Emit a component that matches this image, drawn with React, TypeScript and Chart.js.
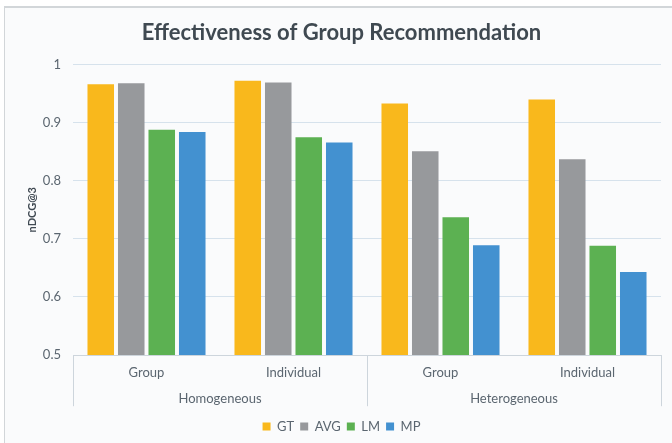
import React, { useEffect, useRef } from "react";
import { Chart, registerables } from "chart.js";

Chart.register(...registerables);

const subCategories = ["Group", "Individual", "Group", "Individual"];
const groupCategories = ["Homogeneous", "Heterogeneous"];
const seriesNames = ["GT", "AVG", "LM", "MP"];
const gtValues = [0.966, 0.972, 0.933, 0.94];
const avgValues = [0.968, 0.969, 0.851, 0.837];
const lmValues = [0.888, 0.875, 0.737, 0.688];
const mpValues = [0.884, 0.866, 0.689, 0.643];
const seriesColors = ["#F9B81C", "#97999C", "#5CB152", "#4391D0"];
const yTicks = [0.5, 0.6, 0.7, 0.8, 0.9, 1];

const FONT = "Lato, 'Open Sans', sans-serif";

export default function App() {
  const ref = useRef<HTMLCanvasElement | null>(null);

  useEffect(() => {
    if (!ref.current) return;
    const boxLines = {
      id: "boxLines",
      afterDraw(chart: any) {
        const x = chart.scales.x;
        const x2 = chart.scales.x2;
        const ctx = chart.ctx;
        const top = chart.chartArea.bottom;
        const bottom = x2.top + 25.6;
        const mid = (x.getPixelForValue(1) + x.getPixelForValue(2)) / 2;
        ctx.save();
        ctx.strokeStyle = "#cdd5dc";
        ctx.lineWidth = 1;
        [x.left, mid, x.right].forEach((px: number) => {
          const p = Math.round(px) + 0.5;
          ctx.beginPath();
          ctx.moveTo(p, top);
          ctx.lineTo(p, bottom);
          ctx.stroke();
        });
        ctx.restore();
      },
    };
    const valuesList = [gtValues, avgValues, lmValues, mpValues];
    const chart = new Chart(ref.current, {
      type: "bar",
      data: {
        labels: subCategories,
        datasets: seriesNames.map((name, i) => ({
          label: name,
          data: valuesList[i],
          backgroundColor: seriesColors[i],
          borderWidth: 0,
          barPercentage: 0.87,
          categoryPercentage: 0.83,
        })),
      },
      options: {
        animation: false,
        responsive: true,
        maintainAspectRatio: false,
        layout: { padding: { left: 22, right: 11, top: 0, bottom: 0 } },
        plugins: {
          title: {
            display: true,
            text: "Effectiveness of Group Recommendation",
            color: "#3f4951",
            font: { family: FONT, size: 22, weight: "bold" },
            padding: { top: 19.8, bottom: 18.4 },
          },
          legend: {
            position: "bottom",
            labels: {
              color: "#5b6670",
              font: { family: FONT, size: 13 },
              boxWidth: 8,
              boxHeight: 8,
              padding: 6,
            },
          },
          tooltip: { enabled: false },
        },
        scales: {
          x: {
            type: "category",
            position: "bottom",
            afterFit(scale: any) {
              scale.height = 25.6;
            },
            grid: { display: false, drawTicks: false },
            border: { display: true, color: "#cdd5dc", width: 1 },
            ticks: {
              color: "#5b6670",
              font: { family: FONT, size: 13 },
              padding: 10,
            },
          },
          x2: {
            type: "category",
            position: "bottom",
            labels: groupCategories,
            offset: true,
            afterFit(scale: any) {
              scale.height = 33.4;
            },
            grid: { display: false, drawTicks: false },
            border: { display: false },
            ticks: {
              color: "#5b6670",
              font: { family: FONT, size: 13 },
              padding: 10,
            },
          },
          y: {
            min: 0.5,
            max: 1,
            afterFit(scale: any) {
              scale.width = 51;
            },
            afterBuildTicks(scale: any) {
              scale.ticks = yTicks.map((v) => ({ value: v }));
            },
            grid: { color: "#d6e2ec", drawTicks: false },
            border: { display: false },
            ticks: {
              color: "#5b6670",
              font: { family: FONT, size: 13 },
              padding: 12,
              callback: (v: any) => String(Number(v)),
            },
            title: {
              display: true,
              text: "nDCG@3",
              color: "#404a53",
              font: { family: FONT, size: 11, weight: "bold" },
            },
          },
        },
      },
      plugins: [boxLines],
    } as any);
    return () => chart.destroy();
  }, []);

  return (
    <div style={{ position: "fixed", left: 0, top: 0, width: 672, height: 443, background: "#ffffff" }}>
      <div
        style={{
          position: "absolute",
          left: 4,
          top: 6,
          right: 0,
          bottom: 0,
          borderTop: "2px solid #d2d6d9",
          borderLeft: "1px solid #d2d6d9",
          background: "#fafbfc",
        }}
      />
      <div style={{ position: "absolute", left: 0, top: 0, width: 672, height: 443 }}>
        <canvas ref={ref} />
      </div>
    </div>
  );
}
